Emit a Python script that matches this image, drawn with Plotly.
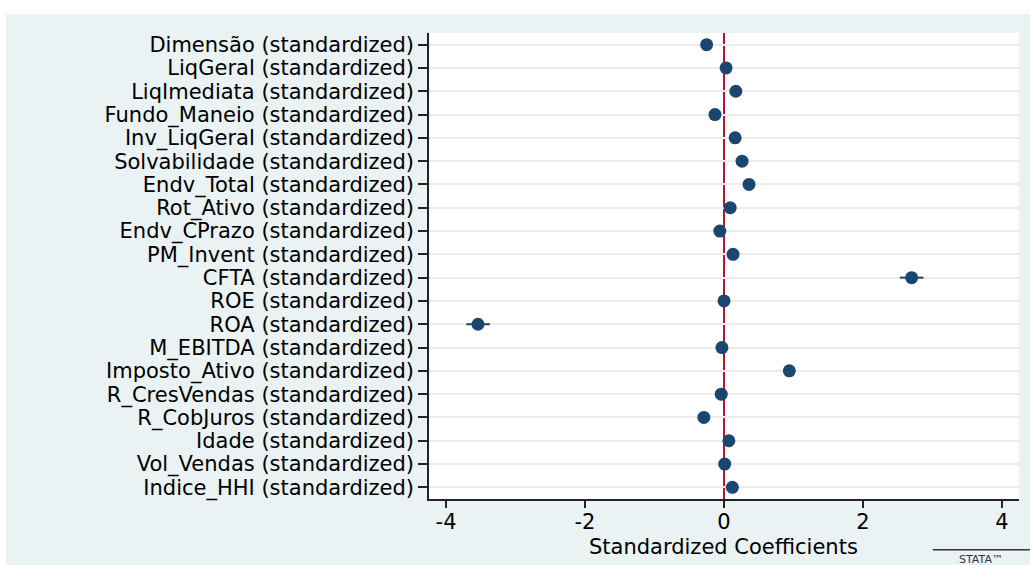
import plotly.graph_objects as go

variables = [
    "Dimensão (standardized)", "LiqGeral (standardized)", "LiqImediata (standardized)",
    "Fundo_Maneio (standardized)", "Inv_LiqGeral (standardized)", "Solvabilidade (standardized)",
    "Endv_Total (standardized)", "Rot_Ativo (standardized)", "Endv_CPrazo (standardized)",
    "PM_Invent (standardized)", "CFTA (standardized)", "ROE (standardized)",
    "ROA (standardized)", "M_EBITDA (standardized)", "Imposto_Ativo (standardized)",
    "R_CresVendas (standardized)", "R_CobJuros (standardized)", "Idade (standardized)",
    "Vol_Vendas (standardized)", "Indice_HHI (standardized)",
]
coef = [-0.25, 0.03, 0.17, -0.13, 0.16, 0.26, 0.36, 0.09, -0.06, 0.13,
        2.70, 0.00, -3.54, -0.03, 0.94, -0.04, -0.29, 0.07, 0.01, 0.12]
ci_low = [-0.30, -0.02, 0.12, -0.18, 0.11, 0.21, 0.31, 0.04, -0.11, 0.08,
          2.53, -0.05, -3.71, -0.08, 0.88, -0.09, -0.34, 0.02, -0.04, 0.07]
ci_high = [-0.20, 0.08, 0.22, -0.08, 0.21, 0.31, 0.41, 0.14, -0.01, 0.18,
           2.87, 0.05, -3.37, 0.02, 1.00, 0.01, -0.24, 0.12, 0.06, 0.17]
x_ticks = [-4, -2, 0, 2, 4]
x_title = "Standardized Coefficients"

navy = "#1a476f"
font_family = "DejaVu Sans, Arial, sans-serif"

fig = go.Figure()
fig.add_trace(go.Scatter(
    x=coef, y=variables, mode="markers",
    marker=dict(color=navy, size=13, symbol="circle"),
    error_x=dict(type="data", symmetric=False,
                 array=[h - c for h, c in zip(ci_high, coef)],
                 arrayminus=[c - l for l, c in zip(ci_low, coef)],
                 thickness=2, width=0, color=navy),
    showlegend=False, hoverinfo="x+y",
))

shapes = [
    # reference line at zero
    dict(type="line", xref="x", yref="paper", x0=0, x1=0, y0=0, y1=1,
         line=dict(color="#b5152f", width=2), layer="between"),
    # white strips outside graph region
    dict(type="rect", xref="paper", yref="paper", x0=-0.8, x1=1.1, y0=1.0408, y1=1.1,
         fillcolor="white", line=dict(width=0), layer="above"),
    dict(type="rect", xref="paper", yref="paper", x0=-0.8, x1=-0.7169, y0=-0.2, y1=1.1,
         fillcolor="white", line=dict(width=0), layer="above"),
    # logo overline
    dict(type="line", xref="paper", yref="paper", x0=0.854, x1=1.05, y0=-0.109, y1=-0.109,
         line=dict(color="#333333", width=1.5)),
]

fig.update_layout(
    width=1030, height=565,
    margin=dict(l=429, r=11, t=33, b=66),
    paper_bgcolor="#EAF2F3", plot_bgcolor="white",
    font=dict(family=font_family, size=21, color="#000000"),
    shapes=shapes,
    xaxis=dict(
        range=[-4.245, 4.245], tickvals=x_ticks, ticktext=[str(t) for t in x_ticks],
        ticks="outside", ticklen=7, tickwidth=1.5, tickcolor="#222222",
        showline=True, linecolor="#222222", linewidth=1.5,
        showgrid=False, zeroline=False, ticklabelstandoff=-4,
        tickfont=dict(size=21),
    ),
    yaxis=dict(
        type="category", categoryorder="array", categoryarray=variables,
        tickmode="array", tickvals=variables, ticktext=variables,
        range=[19.5, -0.5],
        ticks="outside", ticklen=9, tickwidth=1.5, tickcolor="#222222",
        showline=True, linecolor="#222222", linewidth=1.5,
        showgrid=True, gridcolor="#ececec", gridwidth=1.5,
        zeroline=False, tickfont=dict(size=21),
    ),
    annotations=[
        dict(text=x_title, xref="paper", yref="paper", x=(723 - 429) / 590,
             y=(499 - 547) / 466, xanchor="center", yanchor="middle",
             showarrow=False, font=dict(size=21, color="#000000")),
        dict(text="STATA™", xref="paper", yref="paper", x=0.935, y=-0.112,
             xanchor="center", yanchor="top", showarrow=False,
             font=dict(size=11, color="#333333", family=font_family)),
    ],
)

fig.write_html("out.html")
